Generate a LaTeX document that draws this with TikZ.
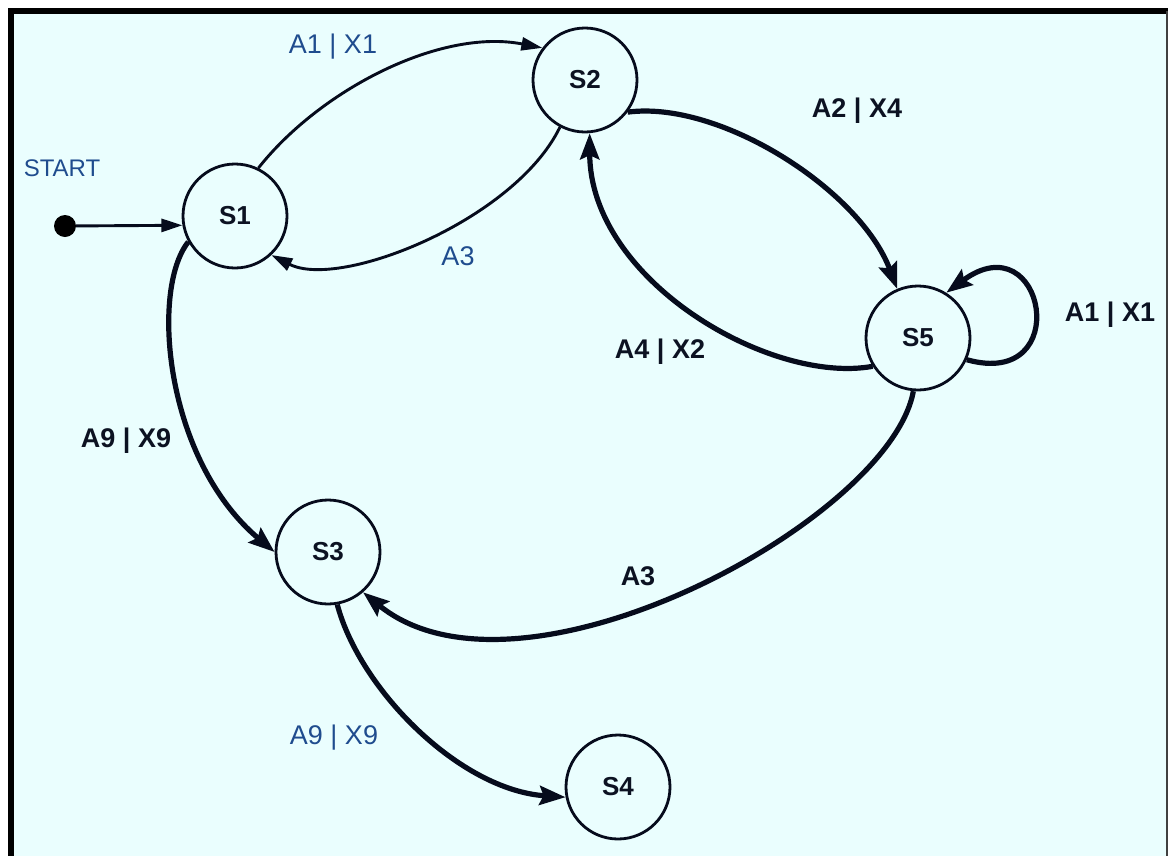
\documentclass[tikz,border=0pt]{standalone}
\usepackage{fontspec}
\setmainfont{Liberation Sans}
\usetikzlibrary{arrows.meta}
\definecolor{panel}{HTML}{EAFEFE}
\definecolor{ink}{HTML}{060B1C}
\definecolor{bluetext}{HTML}{1F4C8E}
\definecolor{darktext}{HTML}{0C1222}
\begin{document}
\begin{tikzpicture}[x=1pt,y=-1pt,
  state/.style={circle,draw=ink,line width=2.8pt,minimum size=104pt,inner sep=0pt,
    font=\fontsize{26}{30}\selectfont\bfseries,text=darktext},
  thinedge/.style={draw=ink,line width=2.9pt,-{Triangle[length=21pt,width=13pt]}},
  thickedge/.style={draw=ink,line width=5.2pt,-{Stealth[length=26pt,width=19pt,inset=4pt]}},
  bluelabel/.style={font=\fontsize{27}{30}\selectfont,text=bluetext},
  boldlabel/.style={font=\fontsize{27}{30}\selectfont\bfseries,text=darktext}]
  % canvas and frame
  \useasboundingbox (0,0) rectangle (1170,855);
  \fill[white] (0,0) rectangle (1170,855);
  \fill[panel] (11,11) rectangle (1167,870);
  \draw[black,line width=6pt] (11,870) -- (11,11) -- (1168,11);
  \draw[black!75,line width=2.5pt] (1167,11) -- (1167,870);

  % states
  \node[state] (S1) at (235,216) {S1};
  \node[state] (S2) at (585,80) {S2};
  \node[state] (S5) at (918,338) {S5};
  \node[state] (S3) at (328,552) {S3};
  \node[state] (S4) at (618,787) {S4};

  % initial pseudo-state
  \node[circle,fill=black,minimum size=22pt,inner sep=0pt] (start) at (65,226) {};
  \node[bluelabel,font=\fontsize{24}{28}\selectfont] (startlbl) at (62,168) {START};
  \draw[thinedge] (start) -- (S1.190);

  % transitions
  \draw[thinedge] (S1.64) .. controls (320,90) and (440,28) .. (S2.143);
  \draw[thinedge] (S2.242) .. controls (515,220) and (340,290) .. (S1.313);
  \draw[thickedge] (S2.323) .. controls (720,100) and (860,190) .. (S5.113);
  \draw[thickedge] (S5.212) .. controls (770,385) and (590,280) .. (S2.275);
  \draw[thickedge] (S5.336) .. controls (1075,390) and (1045,220) .. (S5.58);
  \draw[thickedge] (S1.209) .. controls (150,290) and (165,460) .. (S3.180);
  \draw[thickedge] (S5.265) .. controls (890,520) and (520,720) .. (S3.311);
  \draw[thickedge] (S3.280) .. controls (360,690) and (460,790) .. (S4.191);

  % transition labels
  \node[bluelabel] (l12) at (333,47) {A1 | X1};
  \node[bluelabel] (l21) at (458,256) {A3};
  \node[boldlabel] (l25) at (857,111) {A2 | X4};
  \node[boldlabel] (l52) at (660,352) {A4 | X2};
  \node[boldlabel] (l55) at (1110,315) {A1 | X1};
  \node[boldlabel] (l13) at (126,441) {A9 | X9};
  \node[boldlabel] (l53) at (638,576) {A3};
  \node[bluelabel] (l34) at (334,738) {A9 | X9};
\end{tikzpicture}
\end{document}
